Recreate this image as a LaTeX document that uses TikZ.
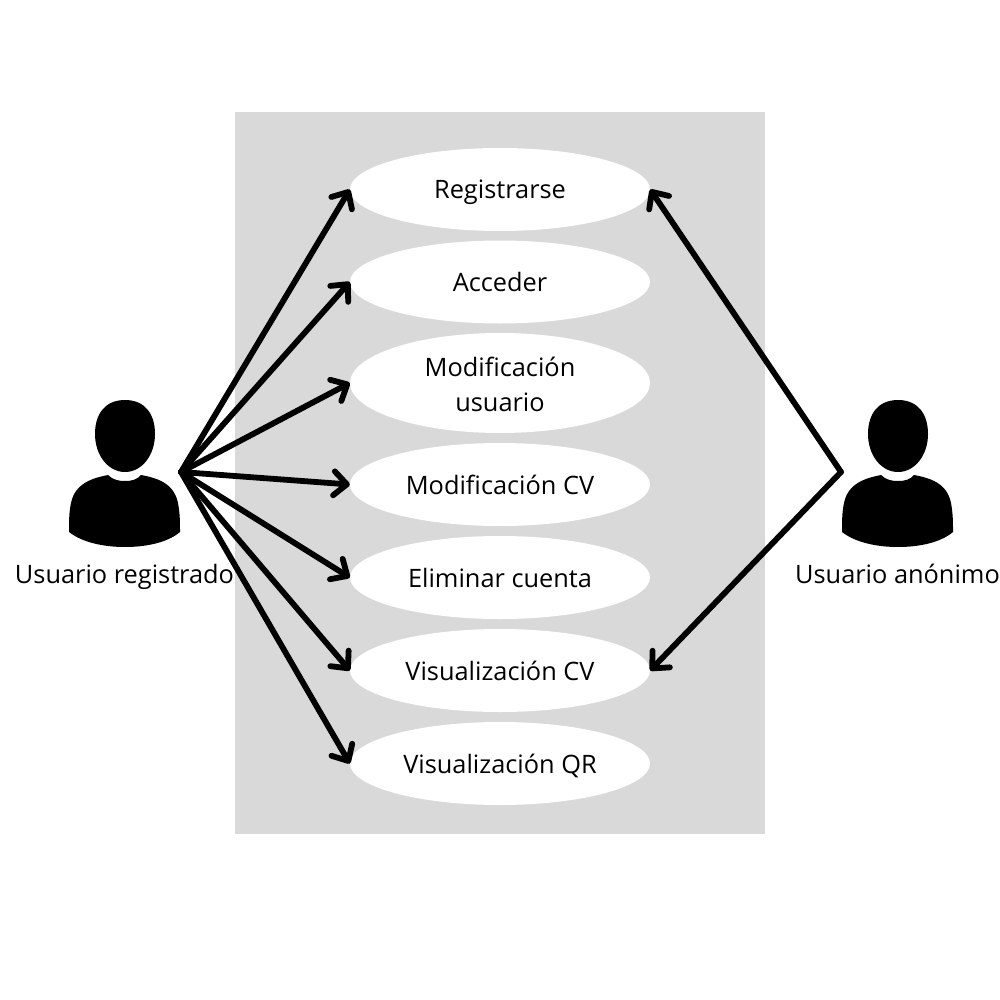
\documentclass[tikz,border=0pt]{standalone}
\usepackage{fontspec}
\setmainfont{Open Sans}
\usetikzlibrary{shapes.geometric,arrows.meta}
\definecolor{panelgray}{HTML}{D9D9D9}
\tikzset{
  usecase/.style={ellipse,fill=white,minimum width=300pt,minimum height=83pt,inner sep=0pt,align=center,font=\fontsize{25.35}{35}\selectfont},
  oneline/.style={text height=18pt,text depth=0pt},
  onelinelow/.style={text height=19.5pt,text depth=0pt},
  actorlabel/.style={inner sep=0pt,oneline,font=\fontsize{25.35}{30}\selectfont},
  link/.style={line width=5.8pt,line cap=round,line join=round,-{Straight Barb[length=13pt,width=24pt,line width=5.8pt,round]}},
  pics/person/.style={code={
    \fill[black] (0,-400) .. controls (20,-400) and (30,-414) .. (30,-434)
      .. controls (30,-455) and (17,-472) .. (0,-472)
      .. controls (-17,-472) and (-30,-455) .. (-30,-434)
      .. controls (-30,-414) and (-20,-400) .. (0,-400) -- cycle;
    \fill[black] (-17,-475) .. controls (-12,-480) and (-6,-481) .. (0,-481)
      .. controls (6,-481) and (12,-480) .. (16,-475)
      .. controls (32,-478) and (49,-483) .. (53,-503)
      .. controls (55,-514) and (55,-522) .. (55,-532)
      .. controls (42,-543) and (20,-547) .. (0,-547)
      .. controls (-20,-547) and (-42,-543) .. (-56,-532)
      .. controls (-56,-522) and (-56,-512) .. (-54,-503)
      .. controls (-50,-483) and (-32,-478) .. (-17,-475) -- cycle;
  }}
}
\begin{document}
\begin{tikzpicture}[x=1pt,y=1pt]
\useasboundingbox (0,0) rectangle (1000,-1000);
\fill[white] (0,0) rectangle (1000,-1000);
\fill[panelgray] (235,-112) rectangle (765,-834);
\node[usecase,oneline] (reg) at (500,-189.5) {Registrarse};
\node[usecase,oneline] (acc) at (500,-282) {Acceder};
\node[usecase,minimum height=100pt] (modu) at (500,-383) {\rule{0pt}{22pt}Modificación\\usuario};
\node[usecase,onelinelow] (modc) at (500,-484.5) {Modificación CV};
\node[usecase,onelinelow] (eli) at (500,-577.5) {Eliminar cuenta};
\node[usecase,onelinelow] (vcv) at (500,-670.5) {Visualización CV};
\node[usecase,onelinelow] (vqr) at (500,-763.5) {Visualización QR};
\pic at (125,0) {person};
\pic at (898,0) {person};
\node[actorlabel] (lreg) at (124.5,-574) {Usuario registrado};
\node[actorlabel] (lanon) at (897.5,-574) {Usuario anónimo};
\coordinate (areg) at (181,-472);
\coordinate (aanon) at (841,-472);
\draw[link] (areg) -- (reg.west);
\draw[link] (areg) -- (acc.west);
\draw[link] (areg) -- (modu.west);
\draw[link] (areg) -- (modc.west);
\draw[link] (areg) -- (eli.west);
\draw[link] (areg) -- (vcv.west);
\draw[link] (areg) -- (vqr.west);
\draw[link] (aanon) -- (reg.east);
\draw[link] (aanon) -- (vcv.east);
\end{tikzpicture}
\end{document}
